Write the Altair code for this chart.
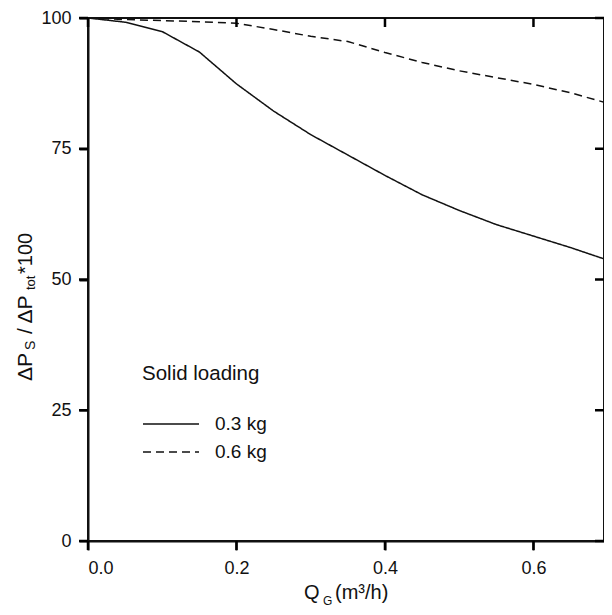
import altair as alt
import pandas as pd

# ---- data ----
q = [0.0, 0.05, 0.1, 0.15, 0.2, 0.25, 0.3, 0.35, 0.4, 0.45, 0.5, 0.55, 0.6, 0.65, 0.7]
load_03 = [100, 99.2, 97.4, 93.5, 87.4, 82.2, 77.7, 73.8, 69.9, 66.2, 63.2, 60.5, 58.3, 56.1, 53.7]
load_06 = [100, 99.7, 99.5, 99.3, 99.0, 97.8, 96.5, 95.5, 93.4, 91.5, 89.9, 88.6, 87.3, 85.7, 83.7]
series = ["0.3 kg", "0.6 kg"]
x_ticks = [0.0, 0.2, 0.4, 0.6]
y_ticks = [0, 25, 50, 75, 100]

W, H = 516, 523
FONT = "Liberation Sans"
INK = "#111111"
TK = 9  # tick length

df = pd.DataFrame({
    "q": q * 2,
    "v": load_03 + load_06,
    "s": [series[0]] * len(q) + [series[1]] * len(q),
})

xs = alt.Scale(domain=[0, 0.695], nice=False, zero=False)
ys = alt.Scale(domain=[0, 100], nice=False)
common = dict(title=None, ticks=True, tickSize=TK, tickColor=INK, tickWidth=2,
              domain=True, domainColor=INK, domainWidth=2, grid=False,
              labelFont=FONT, labelFontSize=18, labelColor=INK)
xax = alt.Axis(values=x_ticks, format=".1f", labelPadding=9, **common)
yax = alt.Axis(values=y_ticks, format="d", labelPadding=8, **common)

lines = alt.Chart(df).mark_line(color=INK, strokeWidth=1.5, clip=True).encode(
    x=alt.X("q:Q", scale=xs, axis=xax),
    y=alt.Y("v:Q", scale=ys, axis=yax),
    strokeDash=alt.StrokeDash(
        "s:N",
        scale=alt.Scale(domain=series, range=[[1, 0], [8, 5]]),
        legend=alt.Legend(
            title="Solid loading", orient="none", legendX=54, legendY=346,
            titleFont=FONT, titleFontSize=20.5, titleFontWeight="normal",
            titleColor=INK, titlePadding=30, clipHeight=19,
            labelFont=FONT, labelFontSize=19, labelColor=INK, labelOffset=15,
            symbolType="stroke", symbolSize=3136, symbolStrokeWidth=1.5,
            symbolStrokeColor=INK, rowPadding=8, padding=0,
        ),
    ),
)

xt_df = pd.DataFrame({"tq": x_ticks})
yt_df = pd.DataFrame({"tv": y_ticks})
rule = dict(color="black", strokeWidth=2.5)
top_ticks = alt.Chart(xt_df).mark_rule(**rule).encode(
    x=alt.X("tq:Q", scale=xs), y=alt.value(0), y2=alt.value(TK)
)
bottom_ticks = alt.Chart(xt_df).mark_rule(**rule).encode(
    x=alt.X("tq:Q", scale=xs), y=alt.value(H), y2=alt.value(H + TK)
)
right_ticks = alt.Chart(yt_df).mark_rule(**rule).encode(
    y=alt.Y("tv:Q", scale=ys), x=alt.value(W - TK), x2=alt.value(W)
)
left_ticks = alt.Chart(yt_df).mark_rule(**rule).encode(
    y=alt.Y("tv:Q", scale=ys), x=alt.value(-TK), x2=alt.value(0)
)


def txt(label, x, y, size, angle=0):
    kw = dict(font=FONT, fontSize=size, color=INK, align="left", baseline="alphabetic")
    if angle:
        kw["angle"] = angle
    return alt.Chart(pd.DataFrame({"t": [label]})).mark_text(**kw).encode(
        x=alt.value(x), y=alt.value(y), text="t:N"
    )


# x axis title: Q_G (m³/h)
xt = [txt("Q", 216, 581, 20), txt("G", 235, 587, 12), txt("(m³/h)", 247, 581, 20)]
# y axis title: ΔP_S / ΔP_tot *100 (rotated)
yt = [
    txt("ΔP", -56.5, 363, 21, 270),
    txt("S", -53, 332, 14, 270),
    txt("/ ΔP", -56.5, 316, 21, 270),
    txt("tot", -53, 272, 13, 270),
    txt("*100", -56.5, 256, 20, 270),
]

chart = alt.layer(lines, top_ticks, bottom_ticks, right_ticks, left_ticks, *xt, *yt).properties(
    width=W, height=H,
    autosize=alt.AutoSizeParams(type="none"),
    padding={"left": 80, "top": 10, "right": 0, "bottom": 66},
).configure_view(stroke=INK, strokeWidth=2)

chart.save("out.html", embed_options={"renderer": "svg", "actions": False})
